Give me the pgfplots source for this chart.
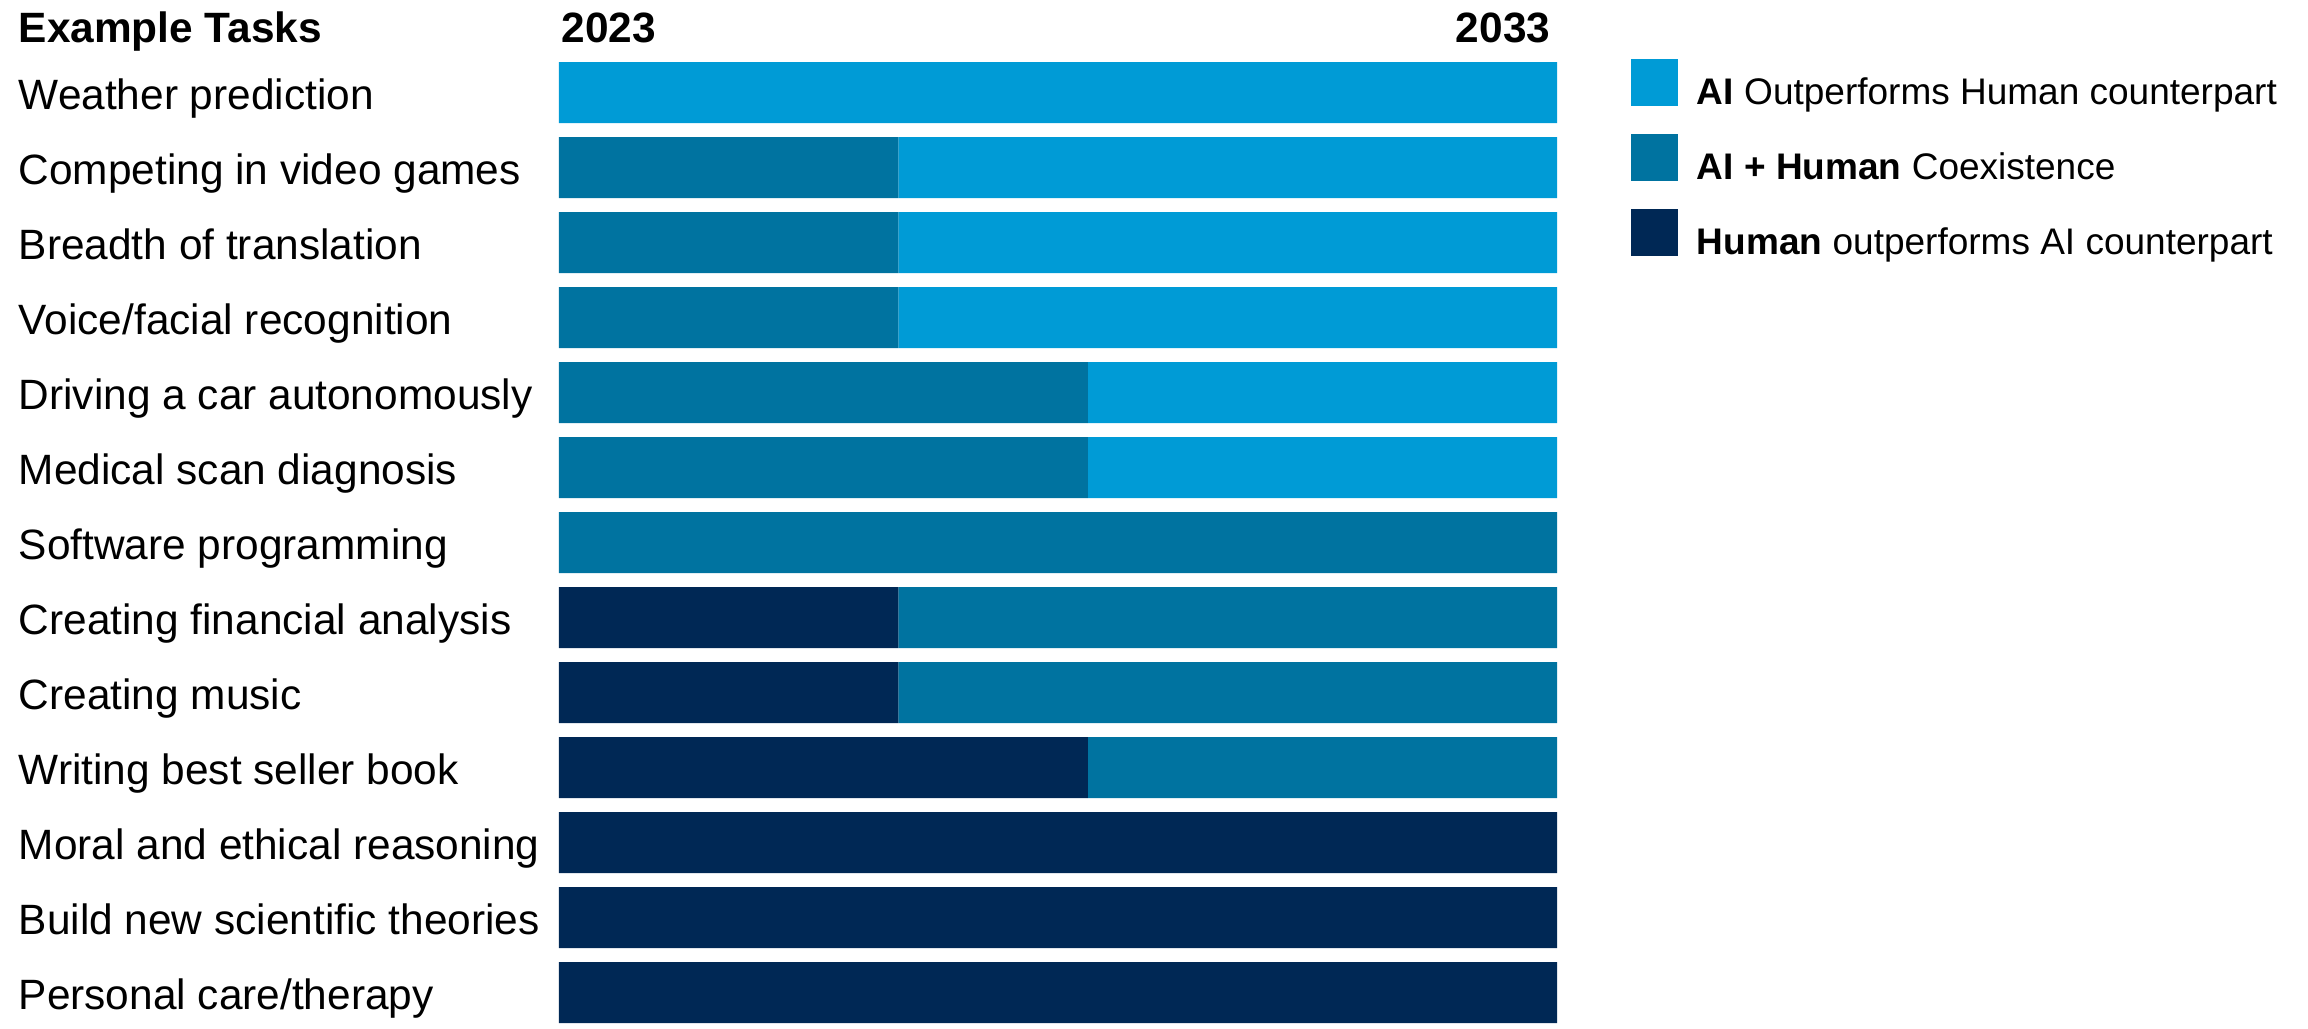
\documentclass[border=0pt]{standalone}
\usepackage{fontspec}
\setmainfont{Liberation Sans}
\usepackage{pgfplots}
\pgfplotsset{compat=1.18}
\definecolor{aiBlue}{RGB}{0,155,214}
\definecolor{mixBlue}{RGB}{0,115,160}
\definecolor{humanNavy}{RGB}{0,40,85}
\pgfplotsset{sq legend/.style={legend image code/.code={\fill[##1] (0pt,-5.875pt) rectangle (11.75pt,5.875pt);}}}

\begin{document}
\begin{tikzpicture}
\useasboundingbox (-139.75pt,-1.25pt) rectangle (437.25pt,255.75pt);
\begin{axis}[
    at={(0,0)}, anchor=south west,
    scale only axis, width=249.5pt, height=240.25pt,
    clip=false,
    xbar stacked, bar width=15.25pt,
    xmin=0, xmax=10, ymin=-0.4067, ymax=12.4067,
    y dir=reverse,
    axis line style={draw=none}, xtick=\empty,
    ytick={0,...,12}, major tick length=0pt,
    yticklabels={Weather prediction, Competing in video games, Breadth of translation,
        Voice/facial recognition, Driving a car autonomously, Medical scan diagnosis,
        Software programming, Creating financial analysis, Creating music,
        Writing best seller book, Moral and ethical reasoning,
        Build new scientific theories, Personal care/therapy},
    yticklabel style={anchor=base west, inner sep=0pt, xshift=-135.25pt, yshift=-4.2pt,
        font=\fontsize{10.6}{12}\selectfont},
    reverse legend,
    legend cell align=left,
    legend style={at={(1.0741,1.0031)}, anchor=north west, draw=none, fill=none,
        inner sep=0pt, outer sep=0pt, row sep=7pt, column sep=4.75pt,
        nodes={inner sep=0pt, text height=11.475pt, text depth=0.275pt},
        font=\fontsize{9.25}{11}\selectfont},
]
% segment lengths in years after 2023: human lead, coexistence, AI lead
\addplot[fill=humanNavy, draw=none, sq legend]
    coordinates {(0,0) (0,1) (0,2) (0,3) (0,4) (0,5) (0,6) (3.4,7) (3.4,8) (5.3,9) (10,10) (10,11) (10,12)};
\addplot[fill=mixBlue, draw=none, sq legend]
    coordinates {(0,0) (3.4,1) (3.4,2) (3.4,3) (5.3,4) (5.3,5) (10,6) (6.6,7) (6.6,8) (4.7,9) (0,10) (0,11) (0,12)};
\addplot[fill=aiBlue, draw=none, sq legend]
    coordinates {(10,0) (6.6,1) (6.6,2) (6.6,3) (4.7,4) (4.7,5) (0,6) (0,7) (0,8) (0,9) (0,10) (0,11) (0,12)};
\legend{\textbf{Human} outperforms AI counterpart, \textbf{AI + Human} Coexistence, \textbf{AI} Outperforms Human counterpart}
\node[anchor=base west, inner sep=0pt, font=\bfseries\fontsize{10.6}{12}\selectfont]
    at (axis description cs:0,1) [xshift=-135.25pt, yshift=5pt] {Example Tasks};
\node[anchor=base west, inner sep=0pt, font=\bfseries\fontsize{10.6}{12}\selectfont]
    at (axis description cs:0,1) [xshift=0.5pt, yshift=5pt] {2023};
\node[anchor=base east, inner sep=0pt, font=\bfseries\fontsize{10.6}{12}\selectfont]
    at (axis description cs:1,1) [xshift=-1.5pt, yshift=5pt] {2033};
\end{axis}
\end{tikzpicture}
\end{document}
